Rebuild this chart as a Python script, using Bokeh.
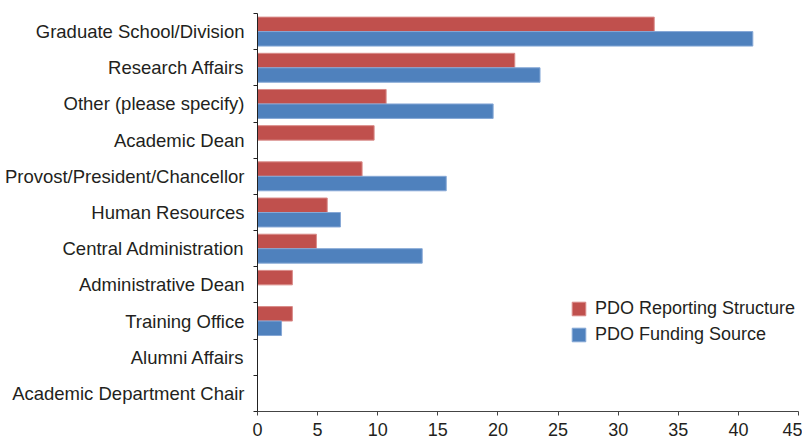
from bokeh.plotting import figure
from bokeh.models import ColumnDataSource, FixedTicker, Legend, LegendItem, Range1d
from bokeh.embed import file_html
from bokeh.resources import INLINE

categories = ["Graduate School/Division", "Research Affairs", "Other (please specify)",
              "Academic Dean", "Provost/President/Chancellor", "Human Resources",
              "Central Administration", "Administrative Dean", "Training Office",
              "Alumni Affairs", "Academic Department Chair"]
reporting = [33.0, 21.4, 10.7, 9.7, 8.7, 5.8, 4.9, 2.9, 2.9, 0.0, 0.0]
funding = [41.2, 23.5, 19.6, 0.0, 15.7, 6.9, 13.7, 0.0, 2.0, 0.0, 0.0]
x_ticks = [0, 5, 10, 15, 20, 25, 30, 35, 40, 45]
series_names = ["PDO Reporting Structure", "PDO Funding Source"]

RED = "#C0504D"
BLUE = "#4F81BD"
FONT = "Liberation Sans"
TXT = "#231f20"

n = len(categories)
pos = [n - 1 - i for i in range(n)]

def src(vals, offset):
    ys, xs = [], []
    for p_, v in zip(pos, vals):
        if v > 0:
            ys.append(p_ + offset)
            xs.append(v)
    return ColumnDataSource(dict(y=ys, right=xs))

p = figure(frame_width=541, frame_height=398,
           x_range=Range1d(0, 45), y_range=Range1d(-0.5, n - 0.5),
           output_backend="svg", toolbar_location=None,
           min_border_left=257, min_border_right=4, min_border_top=13, min_border_bottom=0)

r_red = p.hbar(y="y", right="right", left=0, height=0.4, source=src(reporting, 0.2),
               fill_color=RED, line_color="#d98b89", line_width=1)
r_blue = p.hbar(y="y", right="right", left=0, height=0.4, source=src(funding, -0.2),
                fill_color=BLUE, line_color="#86a8d6", line_width=1)

p.xgrid.visible = False
p.ygrid.visible = False
p.outline_line_color = None

xa = p.xaxis[0]
xa.ticker = FixedTicker(ticks=x_ticks)
xa.major_tick_out = 4
xa.major_tick_in = 0
xa.minor_tick_out = 0
xa.minor_tick_in = 0
xa.axis_line_color = "#444444"
xa.major_tick_line_color = "#444444"
xa.major_label_text_font = FONT
xa.major_label_text_font_size = "18px"
xa.major_label_text_color = TXT
xa.major_label_standoff = 7

ya = p.yaxis[0]
ya.ticker = FixedTicker(ticks=pos, minor_ticks=[k - 0.5 for k in range(n + 1)])
ya.major_label_overrides = {pp: c for pp, c in zip(pos, categories)}
ya.major_tick_out = 0
ya.major_tick_in = 0
ya.minor_tick_out = 4
ya.minor_tick_in = 0
ya.axis_line_color = "#222222"
ya.minor_tick_line_color = "#222222"
ya.major_label_text_font = FONT
ya.major_label_text_font_size = "18.5px"
ya.major_label_text_color = TXT
ya.major_label_standoff = 9

legend = Legend(items=[LegendItem(label=series_names[0], renderers=[r_red]),
                       LegendItem(label=series_names[1], renderers=[r_blue])],
                location=(313, 66), label_text_font=FONT, label_text_font_size="18px",
                label_text_color=TXT, glyph_width=17, glyph_height=17, label_height=20,
                label_standoff=8, spacing=5, padding=0, margin=0,
                border_line_color=None, background_fill_alpha=0)
p.add_layout(legend)

open("out.html", "w").write(file_html(p, INLINE))
